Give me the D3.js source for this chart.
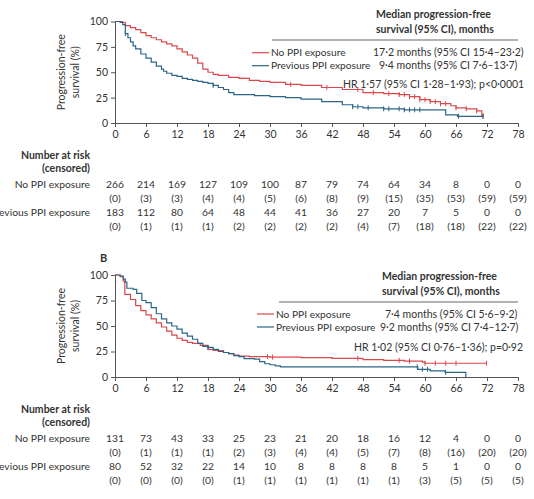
<!DOCTYPE html>
<html><head><meta charset="utf-8">
<script src="https://cdn.jsdelivr.net/npm/d3@7"></script>
<style>
body{margin:0;background:#fff;}
svg text{font-family:Lato,"Open Sans",sans-serif;fill:#333;}
</style></head>
<body><svg id="c" width="534" height="499"></svg>
<script>
// ---------- data ----------
const timeTicks = [0,6,12,18,24,30,36,42,48,54,60,66,72,78];
const survTicks = [0,25,50,75,100];
const seriesNames = ["No PPI exposure","Previous PPI exposure"];

// Panel A Kaplan-Meier steps [month, % surviving]
const redA = [[0,100],[1.5,99],[2,96],[3,94],[4,92],[5,89],[6,86],[7,84],[8,82],[9,80],[10,78],[11,76],[12,73],[13,70],[14,67],[15,64],[16,59],[17,53],[18,50],[19,48],[20,47],[22,45],[24,44],[26,42],[28,41],[30,40],[33,38],[36,37],[40,35],[44,33],[48,30],[52,29],[55,28],[57,26],[59,23],[61,21],[63,19],[65,17],[66,15],[68,14],[70,12],[71,7],[71.3,7]];
const blueA = [[0,100],[1,99],[1.5,97],[2,88],[2.5,84],[3,80],[3.5,76],[4,73],[5,68],[6,64],[7,60],[8,56],[9,53],[9.4,51],[10,49],[11,47],[12,46],[13,44],[14,43],[15,42],[16,41],[17,40],[18,39],[19,37],[20,35],[21,33],[22,30],[23,28],[24,28],[27,27],[30,26],[33,25],[36,23.5],[40,21],[44,18],[46,16],[48,15],[52,14],[56,13],[60,13],[64,8],[66.3,6.5],[71.2,6.5]];
const censRedA = [34,41,47,50,53,55,56,57,58,59,60,61,62,63,64,66,68,70,71.3];
const censBlueA = [2,19,46,47,49,52,53,55,56,57,58,59,66.5,71.2];

// Panel B
const redB = [[0,100],[1,98.5],[1.6,94],[1.9,81],[3,76],[4,70],[5,65],[6,61],[7,57],[8,53],[9,49],[10,45],[11,41],[12,38],[13,36],[14,34],[15,33],[16.5,31],[18,27],[19,26],[21,24],[22,23],[23,21.5],[24,20.5],[26,20],[30,19.5],[36,19],[42,18.3],[48,17],[52,16.3],[56,15.5],[59.5,14.5],[60,13.5],[72,13.5]];
const blueB = [[0,100],[1,99],[1.6,96],[2,93],[2.3,87],[3.5,86],[4.2,82],[5.2,75],[6,73],[7,68],[8,62],[9,57],[10,53],[11,50],[12,47],[13,43],[14,40],[15,37],[16,33],[17,30],[18,29],[19,27],[20,25],[21,24],[22,23],[23,21],[24,20],[25,18],[27,17.5],[28,15],[29,13],[30,12],[31,11],[32,10],[58.6,7.5],[61,6],[63.9,4.5],[67.9,0]];
const censRedB = [29.5,30.5,47,55,57,60,62,64,66,71.9];
const censBlueB = [18,58.5,59.5,60.5,64];

// Legend texts
const medianA = ["17·2 months (95% CI 15·4–23·2)","9·4 months (95% CI 7·6–13·7)"];
const hrA = "HR 1·57 (95% CI 1·28–1·93); p<0·0001";
const medianB = ["7·4 months (95% CI 5·6–9·2)","9·2 months (95% CI 7·4–12·7)"];
const hrB = "HR 1·02 (95% CI 0·76–1·36); p=0·92";

// Number at risk (censored)
const riskNoA = [266,214,169,127,109,100,87,79,74,64,34,8,0,0];
const censNoA = [0,3,3,4,4,5,6,8,9,15,35,53,59,59];
const riskPrevA = [183,112,80,64,48,44,41,36,27,20,7,5,0,0];
const censPrevA = [0,1,1,1,2,2,2,2,4,7,18,18,22,22];
const riskNoB = [131,73,43,33,25,23,21,20,18,16,12,4,0,0];
const censNoB = [0,1,1,1,2,3,4,4,5,7,8,16,20,20];
const riskPrevB = [80,52,32,22,14,10,8,8,8,8,5,1,0,0];
const censPrevB = [0,0,0,0,1,1,1,1,1,1,3,5,5,5];

// ---------- drawing ----------
const RED="#d9494c", BLUE="#2b6587", AX="#555";
const svg = d3.select("#c");
const x = d3.scaleLinear().domain([0,78]).range([115,518]);

function panel(opt){
  const y = d3.scaleLinear().domain([0,100]).range([opt.y0, opt.y1]);
  const g = svg.append("g");
  const xa = g.append("g").attr("transform",`translate(0,${opt.y0})`)
    .call(d3.axisBottom(x).tickValues(timeTicks).tickSize(4).tickPadding(4).tickSizeOuter(0));
  const ya = g.append("g").attr("transform",`translate(${x(0)},0)`)
    .call(d3.axisLeft(y).tickValues(survTicks).tickSize(4).tickPadding(3).tickSizeOuter(0));
  [xa,ya].forEach(a=>{a.selectAll("path,line").attr("stroke",AX);a.selectAll("text").attr("font-size",10.5).attr("fill","#333").attr("font-family","Lato,sans-serif");});
  const cy = (opt.y0+opt.y1)/2;
  g.append("text").attr("transform",`translate(65,${cy}) rotate(-90)`).attr("text-anchor","middle").attr("font-size",10.5).text("Progression-free");
  g.append("text").attr("transform",`translate(79,${cy}) rotate(-90)`).attr("text-anchor","middle").attr("font-size",10.5).text("survival (%)");

  const line = d3.line().x(d=>x(d[0])).y(d=>y(d[1])).curve(d3.curveStepAfter);
  const valAt = (data,t)=>{let v=data[0][1];for(const d of data){if(d[0]<=t)v=d[1];}return v;};
  [[opt.red,RED,opt.cr],[opt.blue,BLUE,opt.cb]].forEach(([data,col,cens])=>{
    g.append("path").datum(data).attr("d",line).attr("fill","none").attr("stroke",col).attr("stroke-width",1.2);
    g.selectAll(null).data(cens).enter().append("line")
      .attr("x1",t=>x(t)).attr("x2",t=>x(t))
      .attr("y1",t=>y(valAt(data,t))-2.5).attr("y2",t=>y(valAt(data,t))+2.5)
      .attr("stroke",col).attr("stroke-width",1);
  });

  // legend
  const L = opt.leg;
  g.append("text").attr("x",L.hx).attr("y",L.hy).attr("font-weight","bold").attr("font-size",10.5).text("Median progression-free");
  g.append("text").attr("x",L.hx).attr("y",L.hy+15).attr("font-weight","bold").attr("font-size",10.5).text("survival (95% CI), months");
  g.append("line").attr("x1",L.lx).attr("x2",518).attr("y1",L.ly).attr("y2",L.ly).attr("stroke","#666").attr("stroke-width",1);
  [RED,BLUE].forEach((col,i)=>{
    const yy = L.ry + i*13;
    g.append("line").attr("x1",L.sx).attr("x2",L.sx+17).attr("y1",yy).attr("y2",yy).attr("stroke",col).attr("stroke-width",1.2);
    g.append("text").attr("x",L.sx+19).attr("y",yy).attr("dy","0.35em").attr("font-size",10.2).text(seriesNames[i]);
    g.append("text").attr("x",L.mx[i]).attr("y",yy).attr("dy","0.35em").attr("font-size",10.5).text(opt.med[i]);
  });
  g.append("text").attr("x",L.hrx).attr("y",L.hry).attr("dy","0.35em").attr("font-size",10.5).text(opt.hr);

  // risk table
  const r0 = opt.y0;
  g.append("text").attr("x",90).attr("y",r0+32).attr("dy","0.35em").attr("text-anchor","end").attr("font-weight","bold").attr("font-size",10.5).text("Number at risk");
  g.append("text").attr("x",90).attr("y",r0+45).attr("dy","0.35em").attr("text-anchor","end").attr("font-weight","bold").attr("font-size",10.5).text("(censored)");
  const rows = [[seriesNames[0],opt.rn,opt.cn,r0+61],[seriesNames[1],opt.rp,opt.cp,r0+89]];
  rows.forEach(([name,risk,cens,yy])=>{
    g.append("text").attr("x",90).attr("y",yy).attr("dy","0.35em").attr("text-anchor","end").attr("font-size",10.3).text(name);
    g.selectAll(null).data(risk).enter().append("text").attr("x",(d,i)=>x(timeTicks[i])).attr("y",yy).attr("dy","0.35em").attr("text-anchor","middle").attr("font-size",10.3).text(d=>d);
    g.selectAll(null).data(cens).enter().append("text").attr("x",(d,i)=>x(timeTicks[i])).attr("y",yy+14).attr("dy","0.35em").attr("text-anchor","middle").attr("font-size",10.3).text(d=>`(${d})`);
  });
}

panel({y0:123,y1:21.5,red:redA,blue:blueA,cr:censRedA,cb:censBlueA,med:medianA,hr:hrA,
  leg:{hx:376,hy:17.5,lx:272,ly:40,sx:252,ry:52.7,mx:[373,379],hrx:343,hry:84},
  rn:riskNoA,cn:censNoA,rp:riskPrevA,cp:censPrevA});
panel({y0:377,y1:275,red:redB,blue:blueB,cr:censRedB,cb:censBlueB,med:medianB,hr:hrB,
  leg:{hx:382,hy:280,lx:279,ly:302,sx:257,ry:314,mx:[385,380],hrx:354,hry:347},
  rn:riskNoB,cn:censNoB,rp:riskPrevB,cp:censPrevB});
svg.append("text").attr("x",100).attr("y",262).attr("font-weight","bold").attr("font-size",11).text("B");
</script></body></html>
